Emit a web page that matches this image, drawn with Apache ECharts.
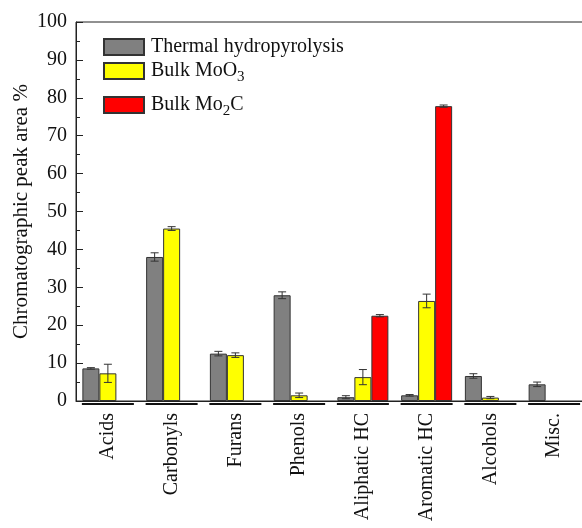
<!DOCTYPE html>
<html>
<head>
<meta charset="utf-8">
<script src="https://cdn.jsdelivr.net/npm/echarts@6/dist/echarts.min.js"></script>
<style>html,body{margin:0;padding:0;background:#fff}#c{width:582px;height:528px}</style>
</head>
<body>
<div id="c"></div>
<script>
var categories = ['Acids', 'Carbonyls', 'Furans', 'Phenols', 'Aliphatic HC', 'Aromatic HC', 'Alcohols', 'Misc.'];
var thermal = [8.6, 38.0, 12.5, 27.9, 1.0, 1.5, 6.6, 4.4];
var thermalErr = [0.2, 1.1, 0.6, 0.9, 0.4, 0.2, 0.6, 0.6];
var moo3 = [7.3, 45.5, 12.1, 1.5, 6.3, 26.4, 0.9, null];
var moo3Err = [2.4, 0.5, 0.6, 0.6, 2.0, 1.8, 0.3, null];
var mo2c = [null, null, null, null, 22.5, 77.8, null, null];
var mo2cErr = [null, null, null, null, 0.3, 0.3, null, null];
var yTicks = [0, 10, 20, 30, 40, 50, 60, 70, 80, 90, 100];

var FONT = '"Liberation Serif", "Times New Roman", serif';
var BW = 17;
var chart = echarts.init(document.getElementById('c'));

function errSeries(vals, errs, idx) {
  var data = [];
  for (var i = 0; i < vals.length; i++) {
    if (vals[i] != null && errs[i] != null) data.push([i, vals[i], errs[i]]);
  }
  return {
    type: 'custom', z: 10, silent: true,
    data: data,
    renderItem: function (params, api) {
      var c = api.value(0), v = api.value(1), e = api.value(2);
      var top = api.coord([c, v + e]);
      var bot = api.coord([c, v - e]);
      var x = top[0] + (idx - 1) * BW;
      var cw = 4;
      var st = { stroke: '#333', lineWidth: 1 };
      return { type: 'group', children: [
        { type: 'line', shape: { x1: x, y1: top[1], x2: x, y2: bot[1] }, style: st },
        { type: 'line', shape: { x1: x - cw, y1: top[1], x2: x + cw, y2: top[1] }, style: st },
        { type: 'line', shape: { x1: x - cw, y1: bot[1], x2: x + cw, y2: bot[1] }, style: st }
      ] };
    }
  };
}

var legendText = { fontFamily: FONT, fontSize: 20, color: '#111', padding: [0, 0, 0, 2],
  rich: { sub: { fontFamily: FONT, fontSize: 15, padding: [12, 0, 0, 0], color: '#111' } } };

function legendFor(name, top, label) {
  return { data: [{ name: name, icon: 'rect' }], left: 103, top: top, itemWidth: 40, itemHeight: 16, itemGap: 0,
    padding: 0, textStyle: legendText, selectedMode: false,
    formatter: function () { return label; } };
}

var option = {
  animation: false,
  backgroundColor: '#fff',
  grid: { left: 76, top: 22, width: 510, bottom: 127, outerBoundsMode: 'none', containLabel: false,
    show: true, borderColor: '#222', borderWidth: 1, backgroundColor: 'transparent' },
  legend: [
    legendFor('Thermal hydropyrolysis', 37, 'Thermal hydropyrolysis'),
    legendFor('Bulk MoO3', 61, 'Bulk MoO{sub|3}'),
    legendFor('Bulk Mo2C', 95, 'Bulk Mo{sub|2}C')
  ],
  xAxis: {
    type: 'category', data: categories,
    axisLine: { lineStyle: { color: '#222', width: 1 } },
    axisTick: { show: false },
    axisLabel: { rotate: 90, fontFamily: FONT, fontSize: 20, color: '#111', margin: 12, interval: 0 }
  },
  yAxis: {
    type: 'value', min: 0, max: 100, interval: 10,
    name: 'Chromatographic peak area %', nameLocation: 'middle', nameGap: 44, nameMoveOverlap: false,
    nameTextStyle: { fontFamily: FONT, fontSize: 21, color: '#111' },
    axisLine: { show: true, lineStyle: { color: '#222', width: 1 } },
    axisTick: { show: true, inside: true, length: 7, lineStyle: { color: '#222' } },
    minorTick: { show: true, splitNumber: 2, length: 4, lineStyle: { color: '#222' } },
    splitLine: { show: false },
    axisLabel: { fontFamily: FONT, fontSize: 20, color: '#111', margin: 9,
      formatter: function (v) { return yTicks.indexOf(v) >= 0 ? String(v) : ''; } }
  },
  series: [
    { name: 'Thermal hydropyrolysis', type: 'bar', data: thermal, barWidth: BW, barGap: '0%',
      itemStyle: { color: '#808080', borderColor: '#333', borderWidth: 1 } },
    { name: 'Bulk MoO3', type: 'bar', data: moo3, barWidth: BW, barGap: '0%',
      itemStyle: { color: '#ffff00', borderColor: '#333', borderWidth: 1 } },
    { name: 'Bulk Mo2C', type: 'bar', data: mo2c, barWidth: BW, barGap: '0%',
      itemStyle: { color: '#ff0000', borderColor: '#333', borderWidth: 1 } },
    errSeries(thermal, thermalErr, 0),
    errSeries(moo3, moo3Err, 1),
    errSeries(mo2c, mo2cErr, 2),
    {
      type: 'custom', silent: true, clip: false,
      data: categories.map(function (c, i) { return [i, 0]; }),
      renderItem: function (params, api) {
        var p = api.coord([api.value(0), 0]);
        return { type: 'line', shape: { x1: p[0] - 26, y1: p[1] + 3, x2: p[0] + 26, y2: p[1] + 3 },
          style: { stroke: '#111', lineWidth: 2 } };
      }
    }
  ]
};
chart.setOption(option);
</script>
</body>
</html>
